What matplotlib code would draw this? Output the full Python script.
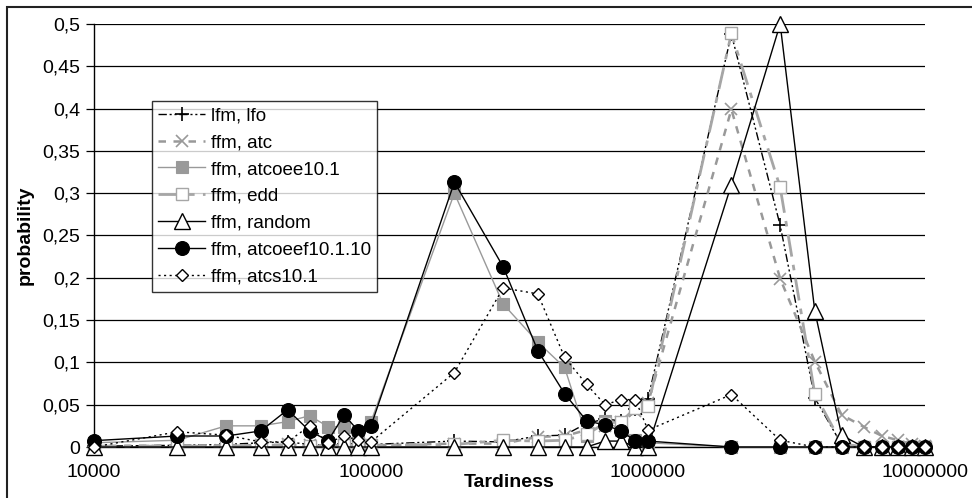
#!/usr/bin/env python3
"""Tardiness probability distributions per dispatching rule (log x axis)."""

import matplotlib
matplotlib.use("Agg")
import matplotlib.pyplot as plt
from matplotlib.patches import Rectangle
from matplotlib.ticker import FixedLocator, FuncFormatter, NullLocator

plt.rcParams["font.family"] = ["Liberation Sans", "DejaVu Sans"]

TARDINESS = [
    10000, 20000, 30000, 40000, 50000, 60000, 70000, 80000, 90000,
    100000, 200000, 300000, 400000, 500000, 600000, 700000, 800000, 900000,
    1000000, 2000000, 3000000, 4000000, 5000000, 6000000, 7000000, 8000000,
    9000000, 10000000,
]

lfm_lfo = [
    0.001, 0.002, 0.003, 0.005, 0.006, 0.003, 0.002, 0.003, 0.004,
    0.003, 0.007, 0.006, 0.013, 0.014, 0.028, 0.033, 0.031, 0.045,
    0.057, 0.488, 0.262, 0.058, 0.003, 0.0, 0.0, 0.0, 0.0, 0.0,
]
ffm_atc = [
    0.001, 0.002, 0.002, 0.002, 0.003, 0.002, 0.002, 0.002, 0.002,
    0.002, 0.004, 0.004, 0.012, 0.013, 0.020, 0.025, 0.030, 0.042,
    0.052, 0.399, 0.199, 0.101, 0.038, 0.024, 0.013, 0.008, 0.003, 0.001,
]
ffm_atcoee = [
    0.005, 0.008, 0.025, 0.025, 0.030, 0.037, 0.024, 0.024, 0.018,
    0.030, 0.300, 0.169, 0.124, 0.094, 0.013, 0.031, 0.020, 0.008,
    0.005, 0.0, 0.0, 0.0, 0.0, 0.0, 0.0, 0.0, 0.0, 0.0,
]
ffm_edd = [
    0.001, 0.001, 0.001, 0.002, 0.002, 0.001, 0.001, 0.002, 0.002,
    0.002, 0.003, 0.008, 0.007, 0.008, 0.015, 0.028, 0.030, 0.046,
    0.048, 0.489, 0.307, 0.063, 0.004, 0.0, 0.0, 0.0, 0.0, 0.0,
]
ffm_random = [
    0.0, 0.0, 0.0, 0.0, 0.0, 0.0, 0.0, 0.0, 0.0,
    0.0, 0.0, 0.0, 0.0, 0.0, 0.0, 0.007, 0.007, 0.0,
    0.0, 0.310, 0.500, 0.161, 0.014, 0.0, 0.0, 0.0, 0.0, 0.0,
]
ffm_atcoeef = [
    0.0075, 0.013, 0.013, 0.019, 0.044, 0.019, 0.0075, 0.038, 0.019,
    0.025, 0.313, 0.213, 0.114, 0.063, 0.031, 0.026, 0.019, 0.007,
    0.007, 0.0, 0.0, 0.0, 0.0, 0.0, 0.0, 0.0, 0.0, 0.0,
]
ffm_atcs = [
    0.0, 0.018, 0.014, 0.006, 0.006, 0.025, 0.005, 0.013, 0.008,
    0.006, 0.088, 0.188, 0.181, 0.106, 0.074, 0.050, 0.056, 0.056,
    0.020, 0.062, 0.008, 0.0, 0.0, 0.0, 0.0, 0.0, 0.0, 0.0,
]

LABELS = [
    "lfm, lfo", "ffm, atc", "ffm, atcoee10.1", "ffm, edd",
    "ffm, random", "ffm, atcoeef10.1.10", "ffm, atcs10.1",
]
X_TICKS = [10000, 100000, 1000000, 10000000]
Y_TICKS = [0, 0.05, 0.1, 0.15, 0.2, 0.25, 0.3, 0.35, 0.4, 0.45, 0.5]

STYLES = [
    dict(color="black", lw=1.0, dashes=(6, 2, 1.5, 2, 1.5, 2),
         marker="+", ms=10, mew=1.2, mfc="black", mec="black"),
    dict(color="#999999", lw=1.8, dashes=(3, 3),
         marker="x", ms=8, mew=1.2, mfc="#999999", mec="#999999"),
    dict(color="#999999", lw=1.0, linestyle="-",
         marker="s", ms=8, mew=0.8, mfc="#999999", mec="#999999"),
    dict(color="#a6a6a6", lw=2.0, dashes=(8, 3, 2, 3),
         marker="s", ms=8, mew=1.0, mfc="white", mec="#a6a6a6"),
    dict(color="black", lw=1.0, linestyle="-",
         marker="^", ms=12, mew=1.0, mfc="white", mec="black"),
    dict(color="black", lw=1.0, linestyle="-",
         marker="o", ms=10, mew=0.8, mfc="black", mec="black"),
    dict(color="black", lw=1.0, dashes=(1.5, 2.5),
         marker="D", ms=6.5, mew=1.0, mfc="white", mec="black"),
]


def main():
    fig = plt.figure(figsize=(9.72, 4.98), dpi=100)
    ax = fig.add_axes([94 / 972, 51 / 498, 831 / 972, 423 / 498])

    series = [lfm_lfo, ffm_atc, ffm_atcoee, ffm_edd,
              ffm_random, ffm_atcoeef, ffm_atcs]
    for i, (vals, label, style) in enumerate(zip(series, LABELS, STYLES)):
        ax.plot(TARDINESS, vals, label=label, clip_on=False,
                zorder=3 + i, **style)

    ax.set_xscale("log")
    ax.set_xlim(1e4, 1e7)
    ax.set_ylim(0, 0.5)
    ax.xaxis.set_major_locator(FixedLocator(X_TICKS))
    ax.xaxis.set_minor_locator(NullLocator())
    ax.xaxis.set_major_formatter(FuncFormatter(lambda v, _: f"{int(round(v))}"))
    ax.yaxis.set_major_locator(FixedLocator(Y_TICKS))
    ax.yaxis.set_major_formatter(
        FuncFormatter(lambda v, _: f"{v:g}".replace(".", ",")))

    ax.grid(axis="y", color="black", lw=0.9)
    ax.set_axisbelow(True)
    for side in ("top", "right"):
        ax.spines[side].set_visible(False)
    ax.spines["left"].set_linewidth(1.0)
    ax.spines["bottom"].set_linewidth(1.0)
    ax.tick_params(axis="x", length=0, labelsize=14, pad=12)
    ax.tick_params(axis="y", length=6, width=0.9, labelsize=14, pad=4)

    ax.set_xlabel("Tardiness", fontsize=14, fontweight="bold", labelpad=-5)
    ax.set_ylabel("probability", fontsize=14, fontweight="bold")
    ax.yaxis.set_label_coords(-0.073, 0.5)

    leg = ax.legend(loc="upper left", bbox_to_anchor=(152 / 972, 1 - 101 / 498),
                    bbox_transform=fig.transFigure, fontsize=13.5,
                    frameon=True, fancybox=False, handlelength=2.5,
                    handletextpad=0.3, labelspacing=0.52, borderpad=0.33,
                    borderaxespad=0)
    leg.get_frame().set_edgecolor("black")
    leg.get_frame().set_linewidth(1.0)
    leg.set_zorder(20)

    fig.patches.append(Rectangle((7 / 972, -0.02), 1.2, 1 - 7 / 498 + 0.02,
                                 transform=fig.transFigure, fill=False,
                                 edgecolor="#222222", lw=1.5))

    fig.savefig("out.png", dpi=100)


if __name__ == "__main__":
    main()
